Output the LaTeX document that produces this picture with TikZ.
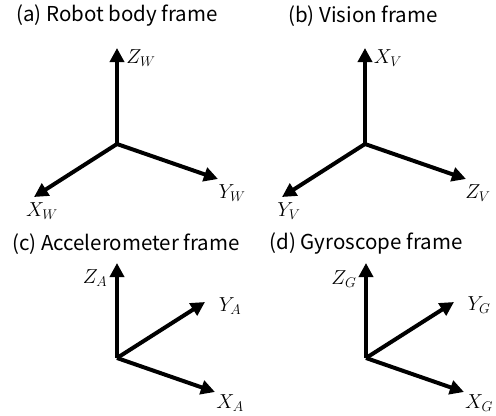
\documentclass[tikz,border=0pt]{standalone}
\usepackage{fontspec}
\setmainfont{Noto Sans CJK KR}
\usetikzlibrary{arrows.meta, positioning}

\begin{document}
\begin{tikzpicture}[x=0.03cm, y=-0.03cm,
    axis/.style={line width=3.4pt, -{Triangle[length=12pt, width=12pt]}},
    title/.style={font=\fontsize{17.5}{20}\selectfont},
    lab/.style={font=\fontsize{17}{20}\selectfont, inner sep=0pt}]
  \useasboundingbox (0, 0) rectangle (496, 416);

  % (a) robot body frame
  \coordinate (Oa) at (117, 144);
  \coordinate (Za) at (117, 48);
  \coordinate (Ya) at (218, 179);
  \coordinate (Xa) at (34, 197);
  \draw[axis] (Oa) -- (Za);
  \draw[axis] (Oa) -- (Ya);
  \draw[axis] (Oa) -- (Xa);
  \node[title] (ta) at (117, 16) {(a) Robot body frame};
  \node[lab] (za) at (141, 58) {$Z_W$};
  \node[lab] (ya) at (232, 193) {$Y_W$};
  \node[lab] (xa) at (42, 211) {$X_W$};

  % (b) vision frame
  \coordinate (Ob) at (365, 144);
  \coordinate (Xb) at (365, 48);
  \coordinate (Zb) at (466, 179);
  \coordinate (Yb) at (282, 197);
  \draw[axis] (Ob) -- (Xb);
  \draw[axis] (Ob) -- (Zb);
  \draw[axis] (Ob) -- (Yb);
  \node[title] (tb) at (363, 16) {(b) Vision frame};
  \node[lab] (xb) at (388, 58) {$X_V$};
  \node[lab] (zb) at (478, 193) {$Z_V$};
  \node[lab] (yb) at (289, 211) {$Y_V$};

  % (c) accelerometer frame
  \coordinate (Oc) at (117, 358);
  \coordinate (Zc) at (117, 263);
  \coordinate (Yc) at (205, 302);
  \coordinate (Xc) at (215, 392);
  \draw[axis] (Oc) -- (Zc);
  \draw[axis] (Oc) -- (Yc);
  \draw[axis] (Oc) -- (Xc);
  \node[title] (tc) at (126, 244) {(c) Accelerometer frame};
  \node[lab] (zc) at (95, 278) {$Z_A$};
  \node[lab] (yc) at (230, 306) {$Y_A$};
  \node[lab] (xc) at (230, 403) {$X_A$};

  % (d) gyroscope frame
  \coordinate (Od) at (366, 358);
  \coordinate (Zd) at (366, 263);
  \coordinate (Yd) at (454, 302);
  \coordinate (Xd) at (464, 392);
  \draw[axis] (Od) -- (Zd);
  \draw[axis] (Od) -- (Yd);
  \draw[axis] (Od) -- (Xd);
  \node[title] (td) at (366, 244) {(d) Gyroscope frame};
  \node[lab] (zd) at (344, 279) {$Z_G$};
  \node[lab] (yd) at (479, 305) {$Y_G$};
  \node[lab] (xd) at (479, 403) {$X_G$};
\end{tikzpicture}
\end{document}
